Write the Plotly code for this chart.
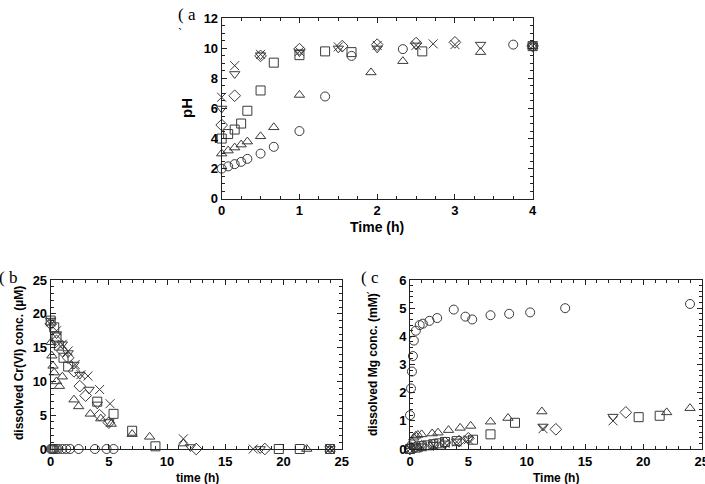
import plotly.graph_objects as go

# ---------------- Panel (a): pH vs time ----------------
a_t_circle = [0, 0.083, 0.167, 0.25, 0.33, 0.5, 0.67, 1.0, 1.33, 1.67, 2.33, 3.75, 4.0]
a_ph_circle = [2.0, 2.15, 2.3, 2.45, 2.65, 3.0, 3.45, 4.5, 6.8, 9.5, 9.95, 10.25, 10.15]
a_t_tri = [0, 0.083, 0.167, 0.25, 0.33, 0.5, 0.67, 1.0, 1.92, 2.33, 3.33, 4.0]
a_ph_tri = [3.0, 3.2, 3.4, 3.6, 3.8, 4.15, 4.75, 6.9, 8.4, 9.15, 9.75, 10.15]
a_t_sq = [0, 0.083, 0.167, 0.25, 0.33, 0.5, 0.67, 1.0, 1.33, 1.67, 2.58, 4.0]
a_ph_sq = [4.0, 4.3, 4.6, 5.0, 5.85, 7.2, 9.05, 9.55, 9.8, 9.75, 9.8, 10.15]
a_t_dia = [0, 0.167, 0.5, 1.0, 1.55, 2.0, 2.5, 3.0, 4.0]
a_ph_dia = [4.9, 6.85, 9.5, 9.95, 10.15, 10.25, 10.35, 10.4, 10.15]
a_t_dtri = [0, 0.167, 0.5, 1.0, 1.5, 2.0, 2.5, 3.33, 4.0]
a_ph_dtri = [6.0, 8.3, 9.55, 9.75, 10.0, 10.0, 10.2, 10.25, 10.15]
a_t_x = [0, 0.167, 0.5, 1.0, 1.5, 2.0, 2.5, 2.72, 3.0, 4.0]
a_ph_x = [6.75, 8.85, 9.6, 9.8, 10.1, 10.2, 10.2, 10.3, 10.25, 10.15]

# ---------------- Panel (b): dissolved Cr(VI) vs time ----------------
b_t_circle = [0, 0.083, 0.167, 0.25, 0.33, 0.5, 0.67, 1.0, 1.33, 1.67, 2.4, 3.8, 4.8, 5.4]
b_cr_circle = [0, 0, 0, 0, 0, 0, 0, 0, 0, 0, 0, 0, 0, 0]
b_t_tri = [0.05, 0.1, 0.2, 0.3, 0.5, 0.75, 1.0, 2.0, 2.4, 3.4, 4.3, 5.2, 7.0, 8.5, 11.4, 22.0, 24.0]
b_cr_tri = [15.8, 13.8, 12.3, 11.3, 10.0, 9.3, 10.7, 7.3, 6.3, 5.2, 4.5, 3.7, 2.2, 1.8, 0.8, 0, 0]
b_t_sq = [0, 0.3, 0.5, 0.7, 1.1, 1.5, 4.0, 5.4, 7.0, 9.0, 19.6, 21.4, 24.0]
b_cr_sq = [19.0, 18.0, 16.5, 15.3, 13.5, 12.2, 7.0, 5.2, 2.7, 0.4, 0, 0, 0]
b_t_dia = [0, 0.5, 1.0, 1.5, 2.0, 2.5, 3.0, 4.2, 5.0, 12.5, 18.4]
b_cr_dia = [18.5, 16.0, 14.5, 13.5, 11.5, 9.3, 7.9, 5.0, 3.9, 0, 0]
b_t_dtri = [0, 0.5, 1.0, 1.5, 2.0, 2.5, 3.3, 4.0, 5.0, 12.0, 18.0, 24.0]
b_cr_dtri = [19.0, 17.0, 15.5, 14.2, 12.5, 11.0, 8.8, 6.6, 4.0, 0.3, 0, 0]
b_t_x = [0, 0.5, 1.0, 1.5, 2.1, 2.6, 3.2, 4.2, 5.1, 11.4, 17.4, 24.0]
b_cr_x = [18.8, 17.5, 15.5, 14.5, 12.5, 11.0, 10.8, 8.8, 6.7, 1.5, 0, 0]

# ---------------- Panel (c): dissolved Mg vs time ----------------
c_t_circle = [0, 0.083, 0.167, 0.25, 0.33, 0.5, 0.83, 1.1, 1.67, 2.33, 3.75, 4.75, 5.33, 6.9, 8.5, 10.3, 13.3, 24.0]
c_mg_circle = [1.2, 2.15, 2.75, 3.3, 3.85, 4.2, 4.4, 4.45, 4.55, 4.65, 4.95, 4.7, 4.6, 4.75, 4.8, 4.85, 5.0, 5.15]
c_t_tri = [0.05, 0.17, 0.33, 0.5, 0.67, 1.0, 1.9, 2.4, 3.3, 4.3, 5.2, 6.9, 8.4, 11.3, 22.0, 24.0]
c_mg_tri = [0.1, 0.25, 0.4, 0.47, 0.5, 0.52, 0.55, 0.58, 0.67, 0.75, 0.82, 0.97, 1.1, 1.33, 1.3, 1.45]
c_t_sq = [0, 0.5, 1.0, 1.5, 2.0, 2.5, 3.0, 4.0, 5.4, 6.9, 9.0, 19.6, 21.4]
c_mg_sq = [0, 0.05, 0.1, 0.13, 0.17, 0.2, 0.25, 0.28, 0.33, 0.52, 0.93, 1.13, 1.18]
c_t_dia = [0, 0.5, 1.0, 2.0, 3.0, 4.2, 5.0, 12.5, 18.5]
c_mg_dia = [0, 0.07, 0.1, 0.15, 0.22, 0.28, 0.38, 0.7, 1.3]
c_t_dtri = [0, 0.5, 1.0, 2.0, 3.0, 4.0, 5.0, 11.4, 17.4]
c_mg_dtri = [0, 0.06, 0.1, 0.15, 0.2, 0.27, 0.35, 0.8, 1.15]
c_t_x = [0, 0.5, 1.0, 2.0, 3.0, 4.0, 5.0, 11.4, 17.4]
c_mg_x = [0, 0.05, 0.08, 0.13, 0.2, 0.25, 0.33, 0.72, 1.0]

# tick values
a_xticks = [0, 1, 2, 3, 4]
a_yticks = [0, 2, 4, 6, 8, 10, 12]
b_xticks = [0, 5, 10, 15, 20, 25]
b_yticks = [0, 5, 10, 15, 20, 25]
c_xticks = [0, 5, 10, 15, 20, 25]
c_yticks = [0, 1, 2, 3, 4, 5, 6]

MARK = "#3a3a3a"
symbols = ["circle-open", "triangle-up-open", "square-open", "diamond-open",
           "triangle-down-open", "x-thin-open"]

panels = [
    ("x", "y", [(a_t_circle, a_ph_circle), (a_t_tri, a_ph_tri), (a_t_sq, a_ph_sq),
                (a_t_dia, a_ph_dia), (a_t_dtri, a_ph_dtri), (a_t_x, a_ph_x)]),
    ("x2", "y2", [(b_t_circle, b_cr_circle), (b_t_tri, b_cr_tri), (b_t_sq, b_cr_sq),
                  (b_t_dia, b_cr_dia), (b_t_dtri, b_cr_dtri), (b_t_x, b_cr_x)]),
    ("x3", "y3", [(c_t_circle, c_mg_circle), (c_t_tri, c_mg_tri), (c_t_sq, c_mg_sq),
                  (c_t_dia, c_mg_dia), (c_t_dtri, c_mg_dtri), (c_t_x, c_mg_x)]),
]

fig = go.Figure()
for xa, ya, series in panels:
    for sym, (xs, ys) in zip(symbols, series):
        fig.add_trace(go.Scatter(
            x=xs, y=ys, mode="markers", xaxis=xa, yaxis=ya, cliponaxis=False,
            showlegend=False,
            marker=dict(symbol=sym, size=9, color=MARK,
                        line=dict(color=MARK, width=1)),
        ))

W, H = 705, 484
tickfont = dict(family="Liberation Sans, Arial, sans-serif", size=13, color="black", weight="bold")


def ax(domain, ticks, minor, anchor):
    span = ticks[-1] - ticks[0]
    return dict(domain=domain, range=[ticks[0], ticks[-1] + span * 1e-4], tickmode="array",
                tickvals=ticks, ticktext=[str(t) for t in ticks], anchor=anchor,
                showgrid=False, zeroline=False, showline=True, linecolor="#222",
                linewidth=1, mirror="allticks", ticks="inside", ticklen=5,
                tickcolor="#222", tickfont=tickfont, ticklabeloverflow="allow",
                automargin=False,
                minor=dict(dtick=minor, tick0=0, ticks="inside", ticklen=3,
                           tickcolor="#222", showgrid=False))


def px_x(p):
    return p / W


def px_y(p):
    return 1 - p / H


fig.update_layout(
    template="none",
    width=W, height=H, margin=dict(l=0, r=0, t=0, b=0, pad=0),
    paper_bgcolor="white", plot_bgcolor="white",
    xaxis=ax([px_x(221.7), px_x(532.7)], a_xticks, 0.25, "y"),
    yaxis=ax([px_y(198.7), px_y(18.3)], a_yticks, 0.5, "x"),
    xaxis2=ax([px_x(50.7), px_x(341.7)], b_xticks, 1, "y2"),
    yaxis2=ax([px_y(449), px_y(280)], b_yticks, 1, "x2"),
    xaxis3=ax([px_x(410), px_x(701.7)], c_xticks, 1, "y3"),
    yaxis3=ax([px_y(449), px_y(280)], c_yticks, 0.2, "x3"),
)

titlefont = dict(family="Liberation Sans, Arial, sans-serif", color="black", weight="bold")
serif = dict(family="Liberation Serif, Times New Roman, serif", color="black", size=17)

annots = [
    # axis titles
    dict(text="Time (h)", x=px_x(377), y=px_y(227), font=dict(size=14, **titlefont)),
    dict(text="pH", x=px_x(186), y=px_y(108), textangle=-90, font=dict(size=15, **titlefont)),
    dict(text="time (h)", x=px_x(197), y=px_y(478), font=dict(size=12, **titlefont)),
    dict(text="dissolved Cr(VI) conc. (µM)", x=px_x(19), y=px_y(363), textangle=-90,
         font=dict(size=12, **titlefont)),
    dict(text="Time (h)", x=px_x(556), y=px_y(478), font=dict(size=12, **titlefont)),
    dict(text="dissolved Mg conc. (mM)", x=px_x(373), y=px_y(365), textangle=-90,
         font=dict(size=12, **titlefont)),
    # panel labels
    dict(text="( a", x=px_x(187), y=px_y(15), font=serif),
    dict(text="`", x=px_x(180), y=px_y(33), font=dict(size=12, family=serif["family"], color="black")),
    dict(text="( b", x=px_x(8), y=px_y(277), font=serif),
    dict(text="( c", x=px_x(370), y=px_y(277), font=serif),
    dict(text="`", x=px_x(368), y=px_y(297), font=dict(size=12, family=serif["family"], color="black")),
]
for a in annots:
    a.update(xref="paper", yref="paper", showarrow=False, xanchor="center", yanchor="middle")
fig.update_layout(annotations=annots)

fig.write_html("out.html")
